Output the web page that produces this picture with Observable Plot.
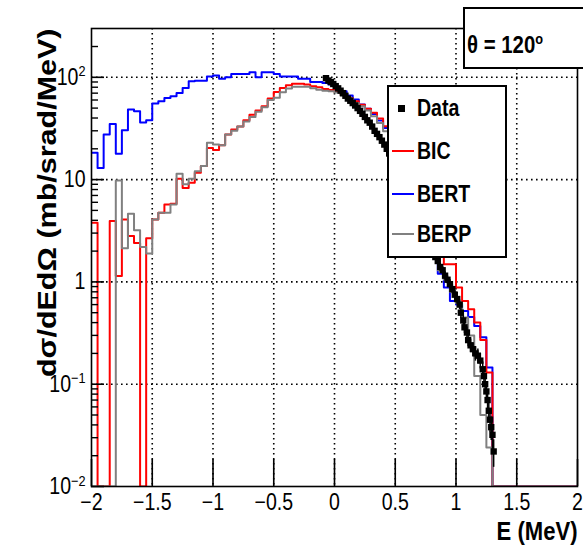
<!DOCTYPE html>
<html><head><meta charset="utf-8">
<script src="https://cdn.jsdelivr.net/npm/d3@7"></script>
<script src="https://cdn.jsdelivr.net/npm/@observablehq/plot@0.6"></script>
<style>
body{margin:0;background:#fff;}
#wrap{position:relative;width:583px;height:552px;overflow:hidden;font-family:"Liberation Sans",Arial,sans-serif;}
.box{position:absolute;border:2px solid #000;background:#fff;box-sizing:border-box;}
.entry{position:absolute;font-weight:bold;font-size:23px;line-height:23px;color:#000;transform:scaleX(0.85);transform-origin:0 50%;white-space:nowrap;}
.swatch{position:absolute;height:2px;}
</style></head><body><div id="wrap"></div>
<script>
// ---- histogram binning (E in MeV)
const binLow = -2, binWidth = 0.05;
// ---- model histograms, one value per 0.05 MeV bin from -2 to 2 (mb/srad/MeV)
const bertValues = [18.3,13.0,27.6,35,17.9,30.4,48.4,46.6,36.1,38,
  55.4,58.3,62.8,65.3,70.3,78.7,91.4,92.5,92.5,102,
  104,97,100,108,108,108,112,100,112,112,
  108,102,102,102,97,97,90,90,88,85,
  77.5,73,66.5,60.7,54.2,49.4,43.9,37.9,32,27,
  22,17.5,13.5,10,7,4.8,2.8,1.2,0.88,0.65,
  0.6,0.52,0.455,0.37,0.287,0.146,0,0,0,0,
  0,0,0,0,0,0,0,0,0,0];
const bicValues = [3.79,0,0,3.94,1.14,4.08,2.81,2.4,0,2.67,
  4.08,4.74,5.72,5.8,10.2,8.3,9.3,11.7,13.6,20.4,
  19.5,21.7,27.6,30.9,33,38,43,47.3,52,62,
  72,78.6,83.5,86.3,86.3,85,81.7,80,77,75,
  72,68.5,62.8,58.3,54,49.4,45,39.5,33.2,28,
  23,18,14,10.5,7.5,5.2,3.3,1.9,1.49,1.49,
  0.88,0.65,0.54,0.40,0.27,0.13,0,0,0,0,
  0,0,0,0,0,0,0,0,0,0];
const berpValues = [0,0,0,0,9.8,2.13,4.65,3.2,2.19,1.89,
  4.08,4.74,4.74,5.72,11.4,9.0,10.2,12.1,13.6,22.9,
  22,21.7,27.6,30,33,37,41,46,51,60,
  63,71.4,77.6,80.8,80.8,80.8,78,75.6,74,73,
  71,66.5,62,56,52,47.3,41.7,35.8,29.7,25,
  20,16,12.5,9.5,6.8,4.6,2.9,1.3,1.05,0.8,
  0.62,0.45,0.3,0.12,0.05,0.024,0,0,0,0,
  0,0,0,0,0,0,0,0,0,0];
// ---- measured data
const dataE = [-0.07,-0.05,-0.03,-0.01,0.01,0.03,0.05,0.07,0.09,0.11,
  0.13,0.15,0.17,0.19,0.21,0.23,0.25,0.27,0.29,0.31,
  0.33,0.35,0.37,0.39,0.41,0.43,0.45,0.47,0.49,0.51,
  0.53,0.55,0.57,0.59,0.61,0.63,0.65,0.67,0.69,0.71,
  0.73,0.75,0.77,0.79,0.81,0.83,0.85,0.87,0.89,0.91,
  0.93,0.95,0.97,0.99,1.01,1.03,1.04,1.06,1.07,1.09,
  1.10,1.12,1.14,1.16,1.18,1.20,1.22,1.23,1.24,1.25,
  1.26,1.27,1.28,1.29,1.30,1.31];
const dataValues = [98,93,90,86,82,78,74,70,66,62,
  59,56,53,50,47,44,41,38,36,33,
  30,28,26,24,22,20,18,16,14.5,13,
  11.5,10,9,8,7,6.2,5.5,4.8,4.2,3.7,
  3.2,2.8,2.5,2.2,1.95,1.75,1.6,1.4,1.3,1.15,
  1.05,0.95,0.85,0.75,0.68,0.6,0.5,0.42,0.36,0.32,
  0.27,0.24,0.22,0.2,0.19,0.17,0.14,0.12,0.1,0.085,
  0.07,0.055,0.045,0.038,0.032,0.022];
const dataRelErr = [0.03,0.03,0.03,0.03,0.03,0.03,0.03,0.03,0.03,0.03,
  0.03,0.03,0.03,0.03,0.03,0.03,0.03,0.03,0.03,0.03,
  0.04,0.04,0.04,0.04,0.04,0.04,0.04,0.04,0.04,0.04,
  0.05,0.05,0.05,0.05,0.05,0.05,0.05,0.05,0.05,0.05,
  0.06,0.06,0.06,0.06,0.07,0.07,0.08,0.08,0.08,0.09,
  0.09,0.1,0.1,0.1,0.11,0.11,0.12,0.12,0.13,0.13,
  0.14,0.15,0.15,0.16,0.16,0.17,0.18,0.2,0.2,0.22,
  0.22,0.24,0.25,0.26,0.28,0.3];
// ---- axes
const yMin = 0.01, yMax = 300;
const xTicks = [-2,-1.5,-1,-0.5,0,0.5,1,1.5,2];
const xGrid = [-1.5,-1,-0.5,0,0.5,1,1.5];
const yMajor = [0.01,0.1,1,10,100];
const yMajorLabels = ["10^\u22122","10^\u22121","1","10","10^2"];
const yGrid = [0.1,1,10,100];
const yMinorFactors = [2,3,4,5,6,7,8,9];
const xTitle = "E (MeV)";
const yTitle = "d\u03C3/dEd\u03A9 (mb/srad/MeV)";
const angleText = "\u03B8 = 120";
const legendLabels = ["Data","BIC","BERT","BERP"];
const colors = {BIC:"#ff0000", BERT:"#0000ff", BERP:"#808080", Data:"#000000"};

const yMinor = [];
for (const d of yMajor) for (const f of yMinorFactors) { const v = d*f; if (v < yMax) yMinor.push(v); }

function steps(values){
  const pts = values.map((v,i)=>({x: binLow + i*binWidth, y: Math.max(v, yMin)}));
  pts.push({x: binLow + values.length*binWidth, y: Math.max(values[values.length-1], yMin)});
  return pts;
}
const dataPts = dataE.map((e,i)=>({E:e, v:dataValues[i], err:dataRelErr[i]}));

const plot = Plot.plot({
  width:583, height:552,
  marginLeft:91, marginRight:6, marginTop:28, marginBottom:66,
  style:{fontFamily:"'Liberation Sans', Arial, sans-serif", background:"white", color:"#000"},
  x:{domain:[-2,2]},
  y:{type:"log", domain:[yMin,yMax]},
  marks:[
    Plot.gridX(xGrid, {stroke:"#000", strokeOpacity:1, strokeDasharray:"1.6,3.4", strokeWidth:1.6}),
    Plot.gridY(yGrid, {stroke:"#000", strokeOpacity:1, strokeDasharray:"1.6,3.4", strokeWidth:1.6}),
    Plot.line(steps(bertValues), {x:"x", y:"y", curve:"step-after", stroke:colors.BERT, strokeWidth:2, clip:true}),
    Plot.line(steps(bicValues), {x:"x", y:"y", curve:"step-after", stroke:colors.BIC, strokeWidth:2, clip:true}),
    Plot.line(steps(berpValues), {x:"x", y:"y", curve:"step-after", stroke:colors.BERP, strokeWidth:2, clip:true}),
    Plot.ruleX(dataPts, {x:"E", y1:d=>d.v*(1-d.err), y2:d=>d.v*(1+d.err), stroke:"#000", strokeWidth:1.5, clip:true}),
    Plot.ruleY(dataPts, {y:"v", x1:d=>d.E-0.015, x2:d=>d.E+0.015, stroke:"#000", strokeWidth:1.5, clip:true}),
    Plot.dot(dataPts, {x:"E", y:"v", symbol:"square", r:3.6, fill:"#000", stroke:null, clip:true}),
    Plot.frame({stroke:"#000", strokeWidth:1.6}),
    Plot.axisX(xTicks, {tickSize:27, dy:-27, tickFormat:()=>"", label:null, strokeWidth:1.6}),
    Plot.axisX(xTicks, {tickSize:0, tickPadding:7, fontSize:23, label:null, tickFormat:d=>d3.format("")(d).replace("-","\u2212")}),
    Plot.axisY(yMajor, {tickSize:13, dx:13, tickFormat:()=>"", label:null, strokeWidth:1.6}),
    Plot.axisY(yMinor, {tickSize:7, dx:7, tickFormat:()=>"", label:null, strokeWidth:1.4}),
    Plot.axisY(yMajor, {tickSize:0, tickPadding:6, fontSize:23, label:null, tickFormat:(d)=>yMajorLabels[yMajor.indexOf(d)]}),
    Plot.text([yTitle], {text:d=>d, frameAnchor:"top-left", rotate:-90, textAnchor:"end", dx:-54, fontSize:30.5, fontWeight:"bold"}),
    Plot.text([xTitle], {text:d=>d, frameAnchor:"bottom-right", textAnchor:"end", dy:53, fontSize:26, fontWeight:"bold"})
  ]
});

function squeeze(el, sx, sy){
  const x = +el.getAttribute("x") || 0, y = +el.getAttribute("y") || 0;
  const tr = el.getAttribute("transform") || "";
  el.setAttribute("transform", `${tr} translate(${x},${y}) scale(${sx},${sy}) translate(${-x},${-y})`);
}

// superscripts on the y tick labels, and narrow (condensed) glyphs like the original
d3.select(plot).selectAll("text").each(function(){
  const t = this.textContent;
  if (!t) return;
  if (t.includes("^")) {
    const [b, s] = t.split("^");
    const sel = d3.select(this);
    sel.text(b);
    sel.append("tspan").attr("dy","-0.55em").attr("font-size","0.65em").text(s);
  }
  if (t === yTitle) squeeze(this, 1, 0.85);
  else squeeze(this, 0.85, 1);
});

const wrap = document.getElementById("wrap");
wrap.appendChild(plot);

// angle box
const ab = document.createElement("div");
ab.className = "box";
Object.assign(ab.style, {left:"463px", top:"7px", width:"130px", height:"62px"});
ab.innerHTML = `<div class="entry" style="left:2px;top:24px;font-size:24px;line-height:24px;">${angleText}<span style="font-size:15px;position:relative;top:-9px;">o</span></div>`;
wrap.appendChild(ab);

// legend
const lg = document.createElement("div");
lg.className = "box";
Object.assign(lg.style, {left:"387px", top:"85px", width:"120px", height:"173px"});
const rowsY = [21, 64, 107, 147];
legendLabels.forEach((name,i)=>{
  const y = rowsY[i];
  if (name === "Data") {
    const m = document.createElement("div");
    Object.assign(m.style, {position:"absolute", left:"9px", top:(y-3)+"px", width:"7px", height:"7px", background:"#000"});
    lg.appendChild(m);
  } else {
    const s = document.createElement("div");
    s.className = "swatch";
    Object.assign(s.style, {left:"3px", top:(y-1)+"px", width:"22px", background:colors[name]});
    lg.appendChild(s);
  }
  const t = document.createElement("div");
  t.className = "entry";
  t.textContent = name;
  Object.assign(t.style, {left:"28px", top:(y-11)+"px"});
  lg.appendChild(t);
});
wrap.appendChild(lg);
</script></body></html>
